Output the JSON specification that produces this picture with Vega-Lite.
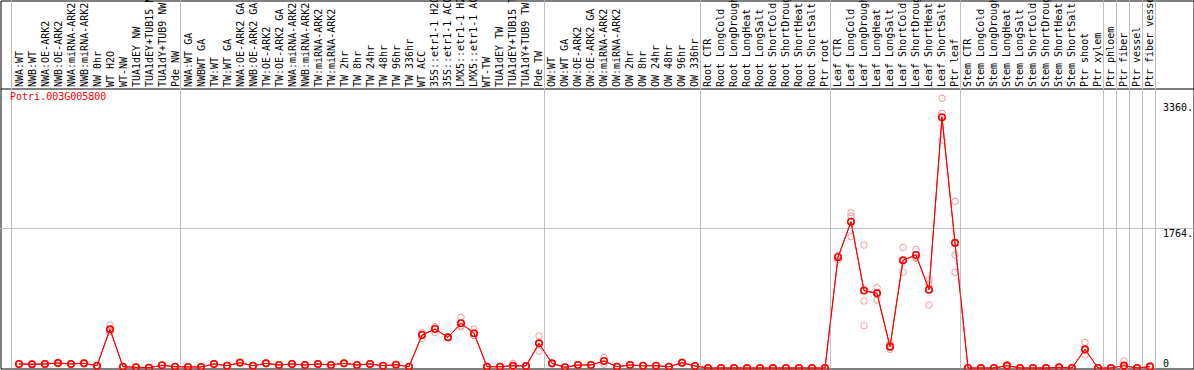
{
  "$schema": "https://vega.github.io/schema/vega-lite/v6.json",
  "width": 1193,
  "height": 368,
  "autosize": {"type": "none"},
  "padding": {"left": 0.5, "top": 0.5, "right": 0.5, "bottom": 1.5},
  "background": "white",
  "config": {"view": {"stroke": "black", "strokeWidth": 1}, "font": "DejaVu Sans Mono", "axis": {"labelOverlap": false, "labelSeparation": 0}},
  "datasets": {
    "grid": [{"i": 0.423}, {"i": 13.423}, {"i": 41.423}, {"i": 53.423}, {"i": 63.423}, {"i": 73.423}, {"i": 84.423}, {"i": 85.423}, {"i": 86.423}, {"i": 87.423}, {"i": 88.423}],
    "expr": [
      {"i": 1, "mean": 51, "r1": 45, "r2": 51, "r3": 57},
      {"i": 2, "mean": 47, "r1": 42, "r2": 47, "r3": 52},
      {"i": 3, "mean": 51, "r1": 46, "r2": 51, "r3": 56},
      {"i": 4, "mean": 63, "r1": 55, "r2": 63, "r3": 71},
      {"i": 5, "mean": 51, "r1": 47, "r2": 51, "r3": 55},
      {"i": 6, "mean": 59, "r1": 52, "r2": 59, "r3": 66},
      {"i": 7, "mean": 29, "r1": 25, "r2": 29, "r3": 33},
      {"i": 8, "mean": 489, "r1": 544, "r2": 464, "r3": 459},
      {"i": 9, "mean": 16, "r1": 12, "r2": 16, "r3": 20},
      {"i": 10, "mean": 9, "r1": 6, "r2": 9, "r3": 12},
      {"i": 11, "mean": 4, "r1": 0, "r2": 4, "r3": 8},
      {"i": 12, "mean": 34, "r1": 30, "r2": 34, "r3": 38},
      {"i": 13, "mean": 16, "r1": 12, "r2": 16, "r3": 20},
      {"i": 14, "mean": 13, "r1": 9, "r2": 13, "r3": 17},
      {"i": 15, "mean": 13, "r1": 9, "r2": 13, "r3": 17},
      {"i": 16, "mean": 51, "r1": 46, "r2": 51, "r3": 56},
      {"i": 17, "mean": 29, "r1": 25, "r2": 29, "r3": 33},
      {"i": 18, "mean": 67, "r1": 60, "r2": 67, "r3": 74},
      {"i": 19, "mean": 29, "r1": 25, "r2": 29, "r3": 33},
      {"i": 20, "mean": 59, "r1": 53, "r2": 59, "r3": 65},
      {"i": 21, "mean": 38, "r1": 34, "r2": 38, "r3": 42},
      {"i": 22, "mean": 51, "r1": 46, "r2": 51, "r3": 56},
      {"i": 23, "mean": 38, "r1": 34, "r2": 38, "r3": 42},
      {"i": 24, "mean": 51, "r1": 46, "r2": 51, "r3": 56},
      {"i": 25, "mean": 38, "r1": 34, "r2": 38, "r3": 42},
      {"i": 26, "mean": 59, "r1": 53, "r2": 59, "r3": 65},
      {"i": 27, "mean": 38, "r1": 34, "r2": 38, "r3": 42},
      {"i": 28, "mean": 51, "r1": 46, "r2": 51, "r3": 56},
      {"i": 29, "mean": 29, "r1": 25, "r2": 29, "r3": 33},
      {"i": 30, "mean": 42, "r1": 38, "r2": 42, "r3": 46},
      {"i": 31, "mean": 16, "r1": 12, "r2": 16, "r3": 20},
      {"i": 32, "mean": 417, "r1": 375, "r2": 430, "r3": 446},
      {"i": 33, "mean": 493, "r1": 522, "r2": 451, "r3": 506},
      {"i": 34, "mean": 388, "r1": 380, "r2": 388, "r3": 396},
      {"i": 35, "mean": 565, "r1": 641, "r2": 522, "r3": 532},
      {"i": 36, "mean": 439, "r1": 493, "r2": 412, "r3": 412},
      {"i": 37, "mean": 16, "r1": 12, "r2": 16, "r3": 20},
      {"i": 38, "mean": 16, "r1": 12, "r2": 16, "r3": 20},
      {"i": 39, "mean": 29, "r1": 59, "r2": 14, "r3": 14},
      {"i": 40, "mean": 25, "r1": 21, "r2": 25, "r3": 29},
      {"i": 41, "mean": 312, "r1": 405, "r2": 215, "r3": 316},
      {"i": 42, "mean": 59, "r1": 64, "r2": 49, "r3": 64},
      {"i": 43, "mean": 9, "r1": 6, "r2": 9, "r3": 12},
      {"i": 44, "mean": 38, "r1": 34, "r2": 38, "r3": 42},
      {"i": 45, "mean": 38, "r1": 34, "r2": 38, "r3": 42},
      {"i": 46, "mean": 89, "r1": 130, "r2": 47, "r3": 90},
      {"i": 47, "mean": 16, "r1": 12, "r2": 16, "r3": 20},
      {"i": 48, "mean": 38, "r1": 34, "r2": 38, "r3": 42},
      {"i": 49, "mean": 29, "r1": 25, "r2": 29, "r3": 33},
      {"i": 50, "mean": 29, "r1": 25, "r2": 29, "r3": 33},
      {"i": 51, "mean": 16, "r1": 12, "r2": 16, "r3": 20},
      {"i": 52, "mean": 67, "r1": 75, "r2": 62, "r3": 64},
      {"i": 53, "mean": 25, "r1": 21, "r2": 25, "r3": 29},
      {"i": 54, "mean": 0, "r1": 0, "r2": 0, "r3": 0},
      {"i": 55, "mean": 0, "r1": 0, "r2": 0, "r3": 0},
      {"i": 56, "mean": 0, "r1": 0, "r2": 0, "r3": 0},
      {"i": 57, "mean": 0, "r1": 0, "r2": 0, "r3": 0},
      {"i": 58, "mean": 0, "r1": 0, "r2": 0, "r3": 0},
      {"i": 59, "mean": 0, "r1": 0, "r2": 0, "r3": 0},
      {"i": 60, "mean": 0, "r1": 0, "r2": 0, "r3": 0},
      {"i": 61, "mean": 0, "r1": 0, "r2": 0, "r3": 0},
      {"i": 62, "mean": 0, "r1": 0, "r2": 0, "r3": 0},
      {"i": 63, "mean": 0, "r1": 0, "r2": 0, "r3": 0},
      {"i": 64, "mean": 1400, "r1": 1366, "r2": 1420, "r3": 1414},
      {"i": 65, "mean": 1849, "r1": 1964, "r2": 1922, "r3": 1661},
      {"i": 66, "mean": 979, "r1": 1555, "r2": 847, "r3": 535},
      {"i": 67, "mean": 944, "r1": 1016, "r2": 860, "r3": 956},
      {"i": 68, "mean": 270, "r1": 312, "r2": 236, "r3": 262},
      {"i": 69, "mean": 1362, "r1": 1526, "r2": 1210, "r3": 1350},
      {"i": 70, "mean": 1429, "r1": 1501, "r2": 1387, "r3": 1399},
      {"i": 71, "mean": 991, "r1": 1113, "r2": 1062, "r3": 797},
      {"i": 72, "mean": 3171, "r1": 3410, "r2": 3221, "r3": 2883},
      {"i": 73, "mean": 1582, "r1": 2108, "r2": 1429, "r3": 1210},
      {"i": 74, "mean": 0, "r1": 0, "r2": 0, "r3": 0},
      {"i": 75, "mean": 0, "r1": 0, "r2": 0, "r3": 0},
      {"i": 76, "mean": 0, "r1": 0, "r2": 0, "r3": 0},
      {"i": 77, "mean": 30, "r1": 20, "r2": 30, "r3": 40},
      {"i": 78, "mean": 0, "r1": 0, "r2": 0, "r3": 0},
      {"i": 79, "mean": 0, "r1": 0, "r2": 0, "r3": 0},
      {"i": 80, "mean": 0, "r1": 0, "r2": 0, "r3": 0},
      {"i": 81, "mean": 8, "r1": 4, "r2": 8, "r3": 12},
      {"i": 82, "mean": 0, "r1": 0, "r2": 0, "r3": 0},
      {"i": 83, "mean": 236, "r1": 325, "r2": 164, "r3": 219},
      {"i": 84, "mean": 0, "r1": 0, "r2": 0, "r3": 0},
      {"i": 85, "mean": 0, "r1": 0, "r2": 0, "r3": 0},
      {"i": 86, "mean": 30, "r1": 90, "r2": 0, "r3": 0},
      {"i": 87, "mean": 0, "r1": 0, "r2": 0, "r3": 0},
      {"i": 88, "mean": 17, "r1": 30, "r2": 10, "r3": 11}
    ]
  },
  "layer": [
    {
      "data": {"name": "expr"},
      "mark": {"type": "line", "color": "#ff0000", "strokeWidth": 1},
      "encoding": {
        "x": {
          "field": "i", "type": "quantitative",
          "scale": {"domain": [-0.4231, 91.3462], "nice": false, "zero": false},
          "axis": {
            "orient": "top", "offset": -88, "title": null, "tickCount": 200,
            "values": [1,2,3,4,5,6,7,8,9,10,11,12,13,14,15,16,17,18,19,20,21,22,23,24,25,26,27,28,29,30,31,32,33,34,35,36,37,38,39,40,41,42,43,44,45,46,47,48,49,50,51,52,53,54,55,56,57,58,59,60,61,62,63,64,65,66,67,68,69,70,71,72,73,74,75,76,77,78,79,80,81,82,83,84,85,86,87,88],
            "labelExpr": "['NWA:WT','NWB:WT','NWA:OE-ARK2','NWB:OE-ARK2','NWA:miRNA-ARK2','NWB:miRNA-ARK2','NW 0hr','WT H2O','WT-NW','TUA1dEY NW','TUA1dEY+TUB15 NW','TUA1dY+TUB9 NW','Pde NW','NWA:WT GA','NWBWT GA','TW:WT','TW:WT GA','NWA:OE-ARK2 GA','NWB:OE-ARK2 GA','TW:OE-ARK2','TW:OE-ARK2 GA','NWA:miRNA-ARK2 GA','NWB:miRNA-ARK2 GA','TW:miRNA-ARK2','TW:miRNA-ARK2','TW 2hr','TW 8hr','TW 24hr','TW 48hr','TW 96hr','TW 336hr','WT ACC','35S::etr1-1 H2O','35S::etr1-1 ACC','LMX5::etr1-1 H2O','LMX5::etr1-1 ACC','WT-TW','TUA1dEY TW','TUA1dEY+TUB15 TW','TUA1dY+TUB9 TW','Pde TW','OW:WT','OW:WT GA','OW:OE-ARK2','OW:OE-ARK2 GA','OW:miRNA-ARK2','OW:miRNA-ARK2','OW 2hr','OW 8hr','OW 24hr','OW 48hr','OW 96hr','OW 336hr','Root CTR','Root LongCold','Root LongDrought','Root LongHeat','Root LongSalt','Root ShortCold','Root ShortDrought','Root ShortHeat','Root ShortSalt','Ptr root','Leaf CTR','Leaf LongCold','Leaf LongDrought','Leaf LongHeat','Leaf LongSalt','Leaf ShortCold','Leaf ShortDrought','Leaf ShortHeat','Leaf ShortSalt','Ptr leaf','Stem CTR','Stem LongCold','Stem LongDrought','Stem LongHeat','Stem LongSalt','Stem ShortCold','Stem ShortDrought','Stem ShortHeat','Stem ShortSalt','Ptr shoot','Ptr xylem','Ptr phloem','Ptr fiber','Ptr vessel','Ptr fiber vessel'][datum.value - 1]",
            "labelAngle": 270, "labelAlign": "left", "labelBaseline": "middle", "labelPadding": 2,
            "labelFont": "DejaVu Sans Mono", "labelFontSize": 10, "labelColor": "black",
            "labelOverlap": false, "labelSeparation": 0, "labelBound": false, "labelFlush": false, "labelLimit": 0,
            "ticks": false, "tickSize": 0, "grid": false,
            "domain": true, "domainColor": "black", "domainWidth": 1
          }
        },
        "y": {
          "field": "mean", "type": "quantitative",
          "scale": {"domain": [-6.32, 4647.1], "nice": false, "zero": false},
          "axis": {
            "orient": "right", "offset": -32, "title": null, "tickCount": 10,
            "values": [0, 1764, 3360],
            "labelExpr": "datum.value == 0 ? '0' : datum.value + '.'",
            "labelAlign": "left",
            "labelBaseline": {"condition": {"test": "datum.value == 0", "value": "bottom"}, "value": "top"},
            "labelPadding": 1, "labelFont": "DejaVu Sans Mono", "labelFontSize": 10, "labelColor": "black",
            "labelOverlap": false, "labelBound": false, "labelFlush": false,
            "ticks": false, "tickSize": 0, "grid": false, "domain": false
          }
        }
      }
    },
    {
      "data": {"name": "grid"},
      "mark": {"type": "rule", "color": "#c0c0c0", "strokeWidth": 1},
      "encoding": {
        "x": {"field": "i", "type": "quantitative", "scale": {"domain": [-0.4231, 91.3462], "nice": false, "zero": false}, "axis": {"title": null, "labelOverlap": false}}
      }
    },
    {
      "data": {"values": [{"v": 1764}]},
      "mark": {"type": "rule", "color": "#c0c0c0", "strokeWidth": 1},
      "encoding": {
        "y": {"field": "v", "type": "quantitative", "scale": {"domain": [-6.32, 4647.1], "nice": false, "zero": false}, "axis": {"title": null, "labelOverlap": false}}
      }
    },
    {
      "data": {"name": "expr"},
      "transform": [{"fold": ["r1", "r2", "r3"], "as": ["rep", "v"]}],
      "mark": {"type": "point", "shape": "circle", "filled": false, "stroke": "#f09a9a", "strokeWidth": 1, "size": 42, "opacity": 1},
      "encoding": {
        "x": {"field": "i", "type": "quantitative", "scale": {"domain": [-0.4231, 91.3462], "nice": false, "zero": false}, "axis": {"title": null, "labelOverlap": false}},
        "y": {"field": "v", "type": "quantitative", "scale": {"domain": [-6.32, 4647.1], "nice": false, "zero": false}, "axis": {"title": null, "labelOverlap": false}}
      }
    },
    {
      "data": {"name": "expr"},
      "mark": {"type": "line", "color": "#ff0000", "strokeWidth": 1},
      "encoding": {
        "x": {"field": "i", "type": "quantitative", "scale": {"domain": [-0.4231, 91.3462], "nice": false, "zero": false}, "axis": {"title": null, "labelOverlap": false}},
        "y": {"field": "mean", "type": "quantitative", "scale": {"domain": [-6.32, 4647.1], "nice": false, "zero": false}, "axis": {"title": null, "labelOverlap": false}}
      }
    },
    {
      "data": {"name": "expr"},
      "mark": {"type": "point", "shape": "circle", "filled": false, "stroke": "#ff0000", "strokeWidth": 1.6, "size": 42, "opacity": 1},
      "encoding": {
        "x": {"field": "i", "type": "quantitative", "scale": {"domain": [-0.4231, 91.3462], "nice": false, "zero": false}, "axis": {"title": null, "labelOverlap": false}},
        "y": {"field": "mean", "type": "quantitative", "scale": {"domain": [-6.32, 4647.1], "nice": false, "zero": false}, "axis": {"title": null, "labelOverlap": false}}
      }
    },
    {
      "data": {"values": [{"t": "Potri.003G005800"}]},
      "mark": {"type": "text", "align": "left", "baseline": "middle", "color": "#ff0000", "font": "DejaVu Sans Mono", "fontSize": 10},
      "encoding": {
        "text": {"field": "t"},
        "x": {"datum": 0.31, "type": "quantitative", "scale": {"domain": [-0.4231, 91.3462], "nice": false, "zero": false}, "axis": {"title": null, "labelOverlap": false}},
        "y": {"datum": 3427, "type": "quantitative", "scale": {"domain": [-6.32, 4647.1], "nice": false, "zero": false}, "axis": {"title": null, "labelOverlap": false}}
      }
    }
  ]
}
